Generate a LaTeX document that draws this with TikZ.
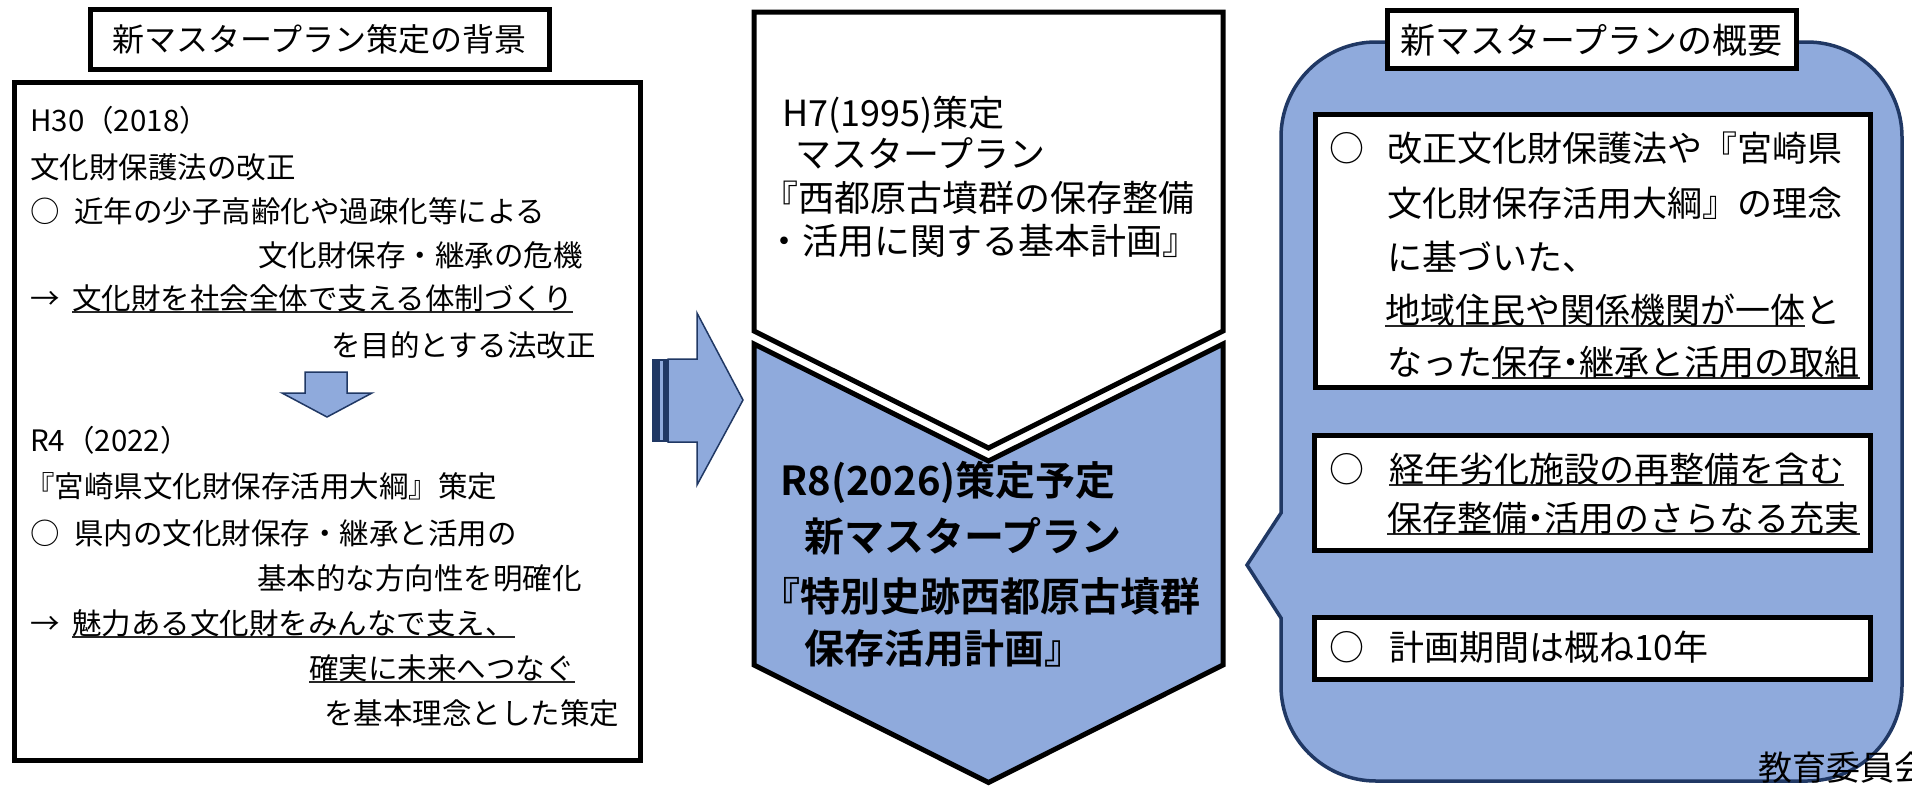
\documentclass[tikz,border=0pt]{standalone}
\usepackage{fontspec}
\setmainfont{Noto Sans CJK JP}[BoldFont={Noto Sans CJK JP Bold}]
\definecolor{lblue}{HTML}{8FAADC}
\definecolor{navy}{HTML}{203864}
\newsavebox\ulbox
\newcommand\myul[1]{\sbox\ulbox{#1}\rlap{\color{black!85}\rule[-3.5pt]{\wd\ulbox}{1.6pt}}\usebox\ulbox}
\newcommand\hmd{\makebox[0.5em][c]{・}}
\tikzset{
  box/.style={draw=black, line width=5pt, fill=white},
  lt/.style={inner sep=0pt, anchor=base west, font=\fontsize{29.5}{35}\selectfont},
  mt/.style={inner sep=0pt, anchor=base west, font=\fontsize{36}{40}\selectfont},
  mb/.style={inner sep=0pt, anchor=base west, font=\bfseries\fontsize{40}{44}\selectfont},
  rt/.style={inner sep=0pt, anchor=base west, font=\fontsize{35}{40}\selectfont},
  bluearrow/.style={fill=lblue, draw=navy, line width=1.5pt, line join=miter},
}
\begin{document}
\begin{tikzpicture}[x=1pt,y=-1pt]
\fill[white] (0,0) rectangle (1912,788);
\useasboundingbox (0,0) rectangle (1912,788);

% ---------- left panel ----------
\draw[box] (14.5,82.5) rectangle (640.5,760.5);
\draw[box] (90,9) rectangle (549,69);
\node[inner sep=0pt, anchor=base, font=\fontsize{32}{36}\selectfont] (ltitle) at (319.5,51) {新マスタープラン策定の背景};

\node[lt] (h30) at (30,131) {H30（2018）};
\node[lt] (law) at (30,178) {文化財保護法の改正};
\node[lt] (c1) at (30,222) {○};
\node[lt] (l3) at (74,222) {近年の少子高齢化や過疎化等による};
\node[lt] (l4) at (258,266) {文化財保存・継承の危機};
\node[lt] (a1) at (30,309) {→};
\node[lt] (l5) at (72,309) {\myul{文化財を社会全体で支える体制づくり}};
\node[lt] (l6) at (331,356) {を目的とする法改正};

% small down arrow
\draw[bluearrow] (305,372) -- (347,372) -- (347,393) -- (372,393) -- (327,417) -- (282,393) -- (305,393) -- cycle;

\node[lt] (r4) at (30,451) {R4（2022）};
\node[lt] (l8) at (25,497) {『宮崎県文化財保存活用大綱』策定};
\node[lt] (c2) at (30,544) {○};
\node[lt] (l9) at (74,544) {県内の文化財保存・継承と活用の};
\node[lt] (l10) at (257,589) {基本的な方向性を明確化};
\node[lt] (a2) at (30,634) {→};
\node[lt] (l11) at (72,634) {\myul{魅力ある文化財をみんなで支え、}};
\node[lt] (l12) at (309,679) {\myul{確実に未来へつなぐ}};
\node[lt] (l13) at (324,724) {を基本理念とした策定};

% ---------- striped right arrow ----------
\fill[navy] (652,359) rectangle (668,442);
\fill[lblue] (660,361) rectangle (663,440);
\draw[bluearrow] (668,359) -- (697,359) -- (697,313) -- (743,400) -- (697,485) -- (697,442) -- (668,442) -- cycle;

% ---------- middle chevrons ----------
\draw[box, line join=miter] (754,12) -- (1223,12) -- (1223,331) -- (988.5,448) -- (754,331) -- cycle;
\draw[box, fill=lblue, line join=miter] (754,344) -- (988.5,461) -- (1223,344) -- (1223,665) -- (988.5,782.5) -- (754,665) -- cycle;

\node[mt] (m1) at (782,126) {H7(1995)策定};
\node[mt] (m2) at (795,167) {マスタープラン};
\node[mt] (m3) at (762,211) {『西都原古墳群の保存整備};
\node[mt] (m4) at (766,254) {・活用に関する基本計画』};

\node[mb] (b1) at (780,495) {R8(2026)策定予定};
\node[mb] (b2) at (804,551) {新マスタープラン};
\node[mb] (b3) at (760,611) {『特別史跡西都原古墳群};
\node[mb] (b4) at (804,663) {保存活用計画』};

% ---------- right callout ----------
\def\rr{95}
\draw[fill=lblue, draw=navy, line width=3.5pt, line join=miter]
  (1376,42) -- (1807,42)
  .. controls (1859.4,42) and (1902,84.6) .. (1902,137)
  -- (1902,686)
  .. controls (1902,738.4) and (1859.4,781) .. (1807,781)
  -- (1376,781)
  .. controls (1323.6,781) and (1281,738.4) .. (1281,686)
  -- (1281,618) -- (1247,565) -- (1281,513)
  -- (1281,137)
  .. controls (1281,84.6) and (1323.6,42) .. (1376,42) -- cycle;

\draw[box] (1387,10) rectangle (1796,68);
\node[inner sep=0pt, anchor=base, font=\fontsize{35}{40}\selectfont] (rtitle) at (1591.5,53) {新マスタープランの概要};

\draw[box] (1315.5,114.5) rectangle (1870.5,387.5);
\node[rt] (o1) at (1329,161) {○};
\node[rt] (r1) at (1387,161) {改正文化財保護法や『宮崎県};
\node[rt] (r2) at (1387,216) {文化財保存活用大綱』の理念};
\node[rt] (r3) at (1387,270) {に基づいた、};
\node[rt] (r4b) at (1385,323) {\myul{地域住民や関係機関が一体}と};
\node[rt] (r5) at (1387,375) {なった\myul{保存\hmd 継承と活用の取組}};

\draw[box] (1314.5,435.5) rectangle (1870.5,550.5);
\node[rt] (o2) at (1329,482) {○};
\node[rt] (r6) at (1389,482) {\myul{経年劣化施設の再整備を含む}};
\node[rt] (r7) at (1387,531) {\myul{保存整備\hmd 活用のさらなる充実}};

\draw[box] (1314.5,617.5) rectangle (1870.5,679.5);
\node[rt] (o3) at (1329,660) {○};
\node[rt] (r8) at (1389,660) {計画期間は概ね10年};

\node[inner sep=0pt, anchor=base west, font=\fontsize{34}{38}\selectfont] (kyoiku) at (1758,780) {教育委員会};
\end{tikzpicture}
\end{document}
